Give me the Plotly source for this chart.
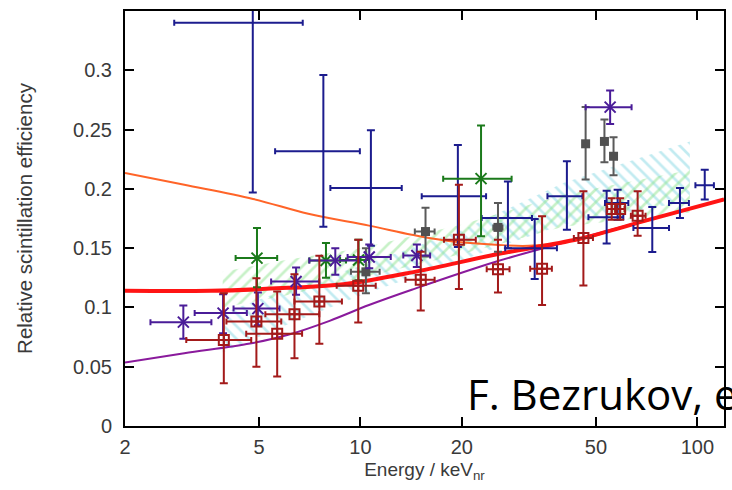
import plotly.graph_objects as go

# ---------------- measurements (energy in keVnr, relative efficiency) ----------------
# Navy points (plain crosses)
blue_E    = [4.79, 7.76, 10.74, 19.46, 27.4, 32.9, 41.0, 53.8, 58.0, 73.5, 88.8, 105.2]
blue_y    = [0.340, 0.2317, 0.2007, 0.1937, 0.1754, 0.150, 0.1937, 0.176, 0.188, 0.167, 0.188, 0.203]
blue_E_lo = [2.80, 5.58, 8.14, 15.2, 22.9, 26.9, 35.9, 47.5, 53.2, 64.6, 82.4, 98.7]
blue_E_hi = [6.74, 9.96, 13.26, 23.6, 32.3, 38.3, 45.6, 60.3, 62.4, 82.4, 94.4, 112.0]
blue_y_lo = [0.197, 0.168, 0.152, 0.151, 0.150, 0.124, 0.1655, 0.154, 0.174, 0.1467, 0.1754, 0.191]
blue_y_hi = [0.50, 0.296, 0.2494, 0.237, 0.2063, 0.1746, 0.2232, 0.1985, 0.1993, 0.1847, 0.2008, 0.2162]

# Indigo points (x markers)
indigo_E    = [2.98, 3.91, 4.96, 6.44, 8.42, 10.62, 14.7, 55.1]
indigo_y    = [0.0876, 0.0952, 0.099, 0.1219, 0.1395, 0.1425, 0.1438, 0.2689]
indigo_E_lo = [2.38, 3.22, 4.20, 5.43, 7.05, 9.16, 13.4, 46.6]
indigo_E_hi = [3.61, 4.60, 5.75, 7.55, 9.90, 12.3, 16.1, 63.8]
indigo_y_lo = [0.0735, 0.0783, 0.085, 0.1106, 0.1275, 0.133, 0.134, 0.2548]
indigo_y_hi = [0.1016, 0.1112, 0.1126, 0.1337, 0.150, 0.153, 0.153, 0.283]

# Green points (x markers)
green_E    = [4.93, 7.90, 9.87, 22.8]
green_y    = [0.1416, 0.1396, 0.140, 0.2086]
green_E_lo = [4.26, 7.05, 8.70, 17.6]
green_E_hi = [5.66, 9.06, 10.6, 28.1]
green_y_lo = [0.117, 0.125, 0.123, 0.160]
green_y_hi = [0.167, 0.1543, 0.157, 0.2534]

# Grey points (filled squares)
grey_E    = [10.38, 15.6, 25.6, 46.6, 53.0, 56.4]
grey_y    = [0.130, 0.164, 0.1675, 0.238, 0.240, 0.2275]
grey_E_lo = [9.37, 14.5, 24.8, 46.6, 53.0, 56.4]
grey_E_hi = [11.4, 16.6, 26.4, 46.6, 53.0, 56.4]
grey_y_lo = [0.112, 0.143, 0.147, 0.2078, 0.2224, 0.2114]
grey_y_hi = [0.150, 0.184, 0.188, 0.269, 0.2584, 0.2435]

# Dark red points (crossed open squares)
red_E    = [3.93, 4.91, 5.66, 6.37, 7.55, 9.85, 15.1, 19.6, 25.6, 34.6, 45.9, 55.7, 59.0, 66.5]
red_y    = [0.0726, 0.0881, 0.0777, 0.0943, 0.105, 0.1182, 0.1233, 0.157, 0.1323, 0.1326, 0.1585, 0.183, 0.183, 0.1774]
red_E_lo = [3.04, 4.00, 4.58, 5.22, 6.37, 8.50, 13.6, 17.7, 23.7, 31.9, 43.0, 54.0, 57.2, 63.5]
red_E_hi = [4.74, 5.82, 6.71, 7.55, 8.81, 11.1, 16.6, 22.0, 27.7, 37.0, 49.0, 57.4, 60.8, 70.2]
red_y_lo = [0.036, 0.050, 0.0417, 0.0572, 0.0693, 0.0873, 0.0974, 0.1155, 0.1126, 0.102, 0.1185, 0.174, 0.174, 0.1605]
red_y_hi = [0.112, 0.1247, 0.1134, 0.128, 0.1436, 0.157, 0.147, 0.2035, 0.157, 0.1768, 0.198, 0.192, 0.192, 0.198]

# Model curves
orange_E = [2, 3, 4.8, 7, 10.6, 14.2, 17.8, 25.2, 31.6, 44.4, 60, 85, 120]
orange_y = [0.2134, 0.2034, 0.1915, 0.179, 0.169, 0.1613, 0.1565, 0.1529, 0.152, 0.157, 0.1676, 0.1795, 0.191]

fit_E = [2, 3.6, 6.1, 8.9, 14.7, 25.6, 44.4, 72, 120]
fit_y = [0.114, 0.114, 0.1165, 0.1195, 0.1304, 0.145, 0.1577, 0.174, 0.191]

violet_E = [2, 3, 4.7, 6.1, 8.1, 10.6, 14.2, 25.2, 44.4, 72, 120]
violet_y = [0.0535, 0.0613, 0.0695, 0.0769, 0.0887, 0.102, 0.1149, 0.1385, 0.158, 0.174, 0.191]

# Uncertainty bands (hatched)
band_E      = [3.9, 6, 10, 20, 40, 95]
cyan_lo     = [0.062, 0.085, 0.11, 0.14, 0.17, 0.19]
cyan_hi     = [0.095, 0.115, 0.135, 0.165, 0.205, 0.24]
lgreen_lo   = [0.10, 0.11, 0.125, 0.145, 0.168, 0.18]
lgreen_hi   = [0.13, 0.14, 0.15, 0.17, 0.195, 0.216]

x_ticks = [2, 5, 10, 20, 50, 100]
y_ticks = [0, 0.05, 0.1, 0.15, 0.2, 0.25, 0.3]
y_ticktext = ["0", "0.05", "0.1", "0.15", "0.2", "0.25", "0.3"]

FONT = "Liberation Sans, Arial, sans-serif"
TEXT = "#3a3a3a"

fig = go.Figure()


def band(E, lo, hi, color, shape):
    return go.Scatter(
        x=list(E) + list(E)[::-1],
        y=list(hi) + list(lo)[::-1],
        mode="lines", line=dict(width=0), fill="toself",
        fillcolor="rgba(0,0,0,0)",
        fillpattern=dict(shape=shape, fgcolor=color, bgcolor="rgba(0,0,0,0)",
                         size=9, solidity=0.3, fillmode="overlay"),
        hoverinfo="skip", showlegend=False,
    )


fig.add_trace(band(band_E, cyan_lo, cyan_hi, "#86d8e4", "\\"))
fig.add_trace(band(band_E, lgreen_lo, lgreen_hi, "#8fe48f", "/"))

# curves
fig.add_trace(go.Scatter(x=violet_E, y=violet_y, mode="lines", line=dict(color="#8a1a9c", width=2, shape="spline"),
                         showlegend=False))
fig.add_trace(go.Scatter(x=orange_E, y=orange_y, mode="lines", line=dict(color="#ff6428", width=2, shape="spline"),
                         showlegend=False))
fig.add_trace(go.Scatter(x=fit_E, y=fit_y, mode="lines", line=dict(color="#ff1414", width=4, shape="spline"),
                         showlegend=False))


def points(E, y, Elo, Ehi, ylo, yhi, color, marker):
    return go.Scatter(
        x=E, y=y, mode="markers", marker=marker, showlegend=False,
        error_x=dict(type="data", symmetric=False,
                     array=[h - e for h, e in zip(Ehi, E)],
                     arrayminus=[e - l for e, l in zip(E, Elo)],
                     color=color, thickness=2, width=3),
        error_y=dict(type="data", symmetric=False,
                     array=[h - v for h, v in zip(yhi, y)],
                     arrayminus=[v - l for v, l in zip(y, ylo)],
                     color=color, thickness=2, width=4),
    )


BLUE, GREY, GREEN, INDIGO, DRED = "#1c1c8e", "#5a5a5a", "#1b7a1b", "#4a1c98", "#a31a1a"

fig.add_trace(points(blue_E, blue_y, blue_E_lo, blue_E_hi, blue_y_lo, blue_y_hi, BLUE,
                     dict(size=2, color=BLUE)))
fig.add_trace(points(grey_E, grey_y, grey_E_lo, grey_E_hi, grey_y_lo, grey_y_hi, GREY,
                     dict(symbol="square", size=9, color="#505050")))
fig.add_trace(points(green_E, green_y, green_E_lo, green_E_hi, green_y_lo, green_y_hi, GREEN,
                     dict(symbol="x-thin-open", size=11, color=GREEN, line=dict(color=GREEN, width=2))))
fig.add_trace(points(indigo_E, indigo_y, indigo_E_lo, indigo_E_hi, indigo_y_lo, indigo_y_hi, INDIGO,
                     dict(symbol="x-thin-open", size=11, color=INDIGO, line=dict(color=INDIGO, width=2))))
fig.add_trace(points(red_E, red_y, red_E_lo, red_E_hi, red_y_lo, red_y_hi, DRED,
                     dict(symbol="square-cross-open", size=10, color=DRED, line=dict(color=DRED, width=2))))

axis_common = dict(showline=True, linecolor="black", linewidth=2, mirror="ticks",
                   ticks="inside", ticklen=9, tickwidth=2, tickcolor="black",
                   showgrid=False, zeroline=False,
                   tickfont=dict(family=FONT, size=20, color=TEXT))

fig.update_xaxes(type="log", range=[0.30103, 2.07918], tickvals=x_ticks,
                 ticktext=[str(t) for t in x_ticks], ticklabelstandoff=2,
                 title=dict(text="Energy / keV<sub>nr</sub>", font=dict(family=FONT, size=19, color=TEXT),
                            standoff=6),
                 **axis_common)
fig.update_yaxes(range=[0, 0.35], tickvals=y_ticks, ticktext=y_ticktext, ticklabelstandoff=7,
                 title=dict(text="Relative scintillation efficiency",
                            font=dict(family=FONT, size=20.5, color=TEXT), standoff=35),
                 **axis_common)

fig.add_annotation(text="F. Bezrukov, et al.", xref="paper", yref="paper", x=0.568, y=0.078,
                   xanchor="left", yanchor="middle", showarrow=False,
                   font=dict(family="Open Sans, sans-serif", size=42, color="black"))

fig.update_layout(width=732, height=490, margin=dict(l=125, r=6, t=11, b=64),
                  plot_bgcolor="white", paper_bgcolor="white", showlegend=False)

fig.write_html("out.html")
